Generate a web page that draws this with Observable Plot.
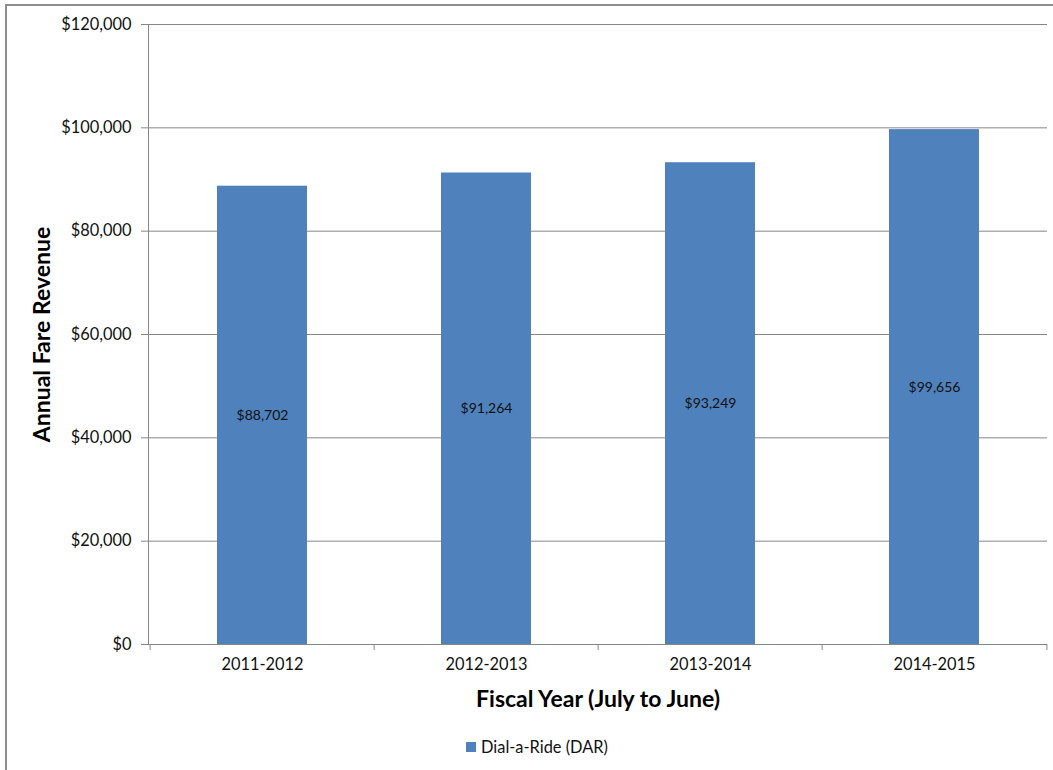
<!DOCTYPE html>
<html>
<head>
<meta charset="utf-8">
<script src="https://cdn.jsdelivr.net/npm/d3@7"></script>
<script src="https://cdn.jsdelivr.net/npm/@observablehq/plot@0.6"></script>
<style>
  html, body { margin: 0; padding: 0; background: #fff; }
  #wrap { position: relative; width: 1053px; height: 770px; overflow: hidden; font-family: Lato, "Open Sans", sans-serif; }
  #border { position: absolute; left: 5px; top: 4px; width: 1060px; height: 780px; border-left: 2px solid #8e8e8e; border-top: 2px solid #8e8e8e; }
  #chart { position: absolute; left: 0; top: 0; }
  #legend { position: absolute; left: 466px; top: 737px; font-size: 16.4px; color: #111; display: flex; align-items: center; white-space: nowrap; }
  #legend .sw { width: 10px; height: 10px; background: #4F81BD; margin-right: 5px; }
</style>
</head>
<body>
<div id="wrap">
  <div id="border"></div>
  <div id="chart"></div>
  <div id="legend"></div>
</div>
<script>
const years = ["2011-2012", "2012-2013", "2013-2014", "2014-2015"];
const revenue = [88702, 91264, 93249, 99656];
const yTicks = [0, 20000, 40000, 60000, 80000, 100000, 120000];
const seriesName = "Dial-a-Ride (DAR)";
const yTitle = "Annual Fare Revenue";
const xTitle = "Fiscal Year (July to June)";

const data = years.map((y, i) => ({year: y, value: revenue[i]}));
const money = d => "$" + d3.format(",")(d);

const W = 1053, H = 728;
const mL = 148, mR = 6, mT = 24, mB = H - 644;
const step = (W - mL - mR) / years.length;
const gray = "#868686";
const blue = "#4F81BD";

const plot = Plot.plot({
  width: W,
  height: H,
  marginLeft: mL,
  marginRight: mR,
  marginTop: mT,
  marginBottom: mB,
  style: {fontFamily: "Lato, 'Open Sans', sans-serif", background: "transparent", color: "#111"},
  x: {domain: years, paddingInner: 0.6, paddingOuter: 0.3, label: null},
  y: {domain: [0, 120000], label: null},
  marks: [
    Plot.gridY(yTicks, {stroke: gray, strokeOpacity: 1, strokeWidth: 1}),
    Plot.axisY(yTicks, {tickSize: 7, stroke: gray, strokeOpacity: 1, tickPadding: 10, tickFormat: money, fontSize: 16.4, label: null, fill: "#111"}),
    Plot.barY(data, {x: "year", y: "value", fill: blue}),
    Plot.frame({anchor: "left", stroke: gray}),
    Plot.ruleY([0], {stroke: gray}),
    Plot.ruleX(years, {x: d => d, dx: -step / 2, y1: 0, y2: 0, insetBottom: -6, stroke: gray}),
    Plot.ruleX(years.slice(-1), {x: d => d, dx: step / 2, y1: 0, y2: 0, insetBottom: -6, stroke: gray}),
    Plot.axisX({tickSize: 0, tickPadding: 14, fontSize: 16.4, label: null, fill: "#111"}),
    Plot.text(data, {x: "year", y: d => d.value / 2, text: d => money(d.value), fontSize: 14, fill: "#111"}),
    Plot.text([yTitle], {frameAnchor: "left", textAnchor: "middle", lineAnchor: "middle", dx: -106, rotate: -90, fontSize: 23, fontWeight: "bold", fill: "#000"}),
    Plot.text([xTitle], {frameAnchor: "bottom", textAnchor: "middle", lineAnchor: "middle", dy: 55, fontSize: 23, fontWeight: "bold", fill: "#000"})
  ]
});
document.getElementById("chart").appendChild(plot);

const lg = document.getElementById("legend");
lg.innerHTML = `<div class="sw"></div><span>${seriesName}</span>`;
</script>
</body>
</html>
